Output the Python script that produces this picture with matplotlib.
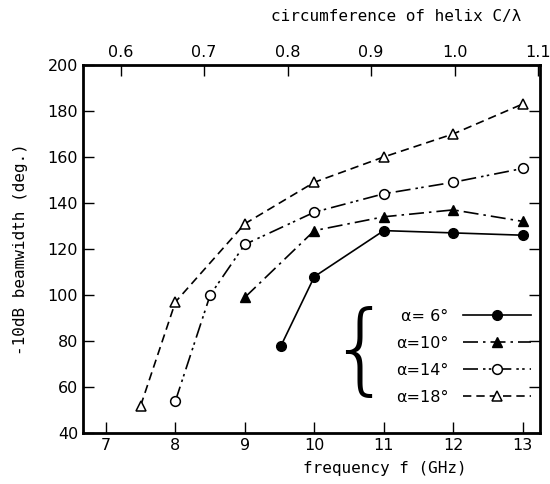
import matplotlib.pyplot as plt
import numpy as np

# данные
f_6 = [9.52, 10, 11, 12, 13]
bw_6 = [78, 108, 128, 127, 126]
f_10 = [9, 10, 11, 12, 13]
bw_10 = [99, 128, 134, 137, 132]
f_14 = [8, 8.5, 9, 10, 11, 12, 13]
bw_14 = [54, 100, 122, 136, 144, 149, 155]
f_18 = [7.5, 8, 9, 10, 11, 12, 13]
bw_18 = [52, 97, 131, 149, 160, 170, 183]

labels = ['α= 6°', 'α=10°', 'α=14°', 'α=18°']
x_ticks = [7, 8, 9, 10, 11, 12, 13]
y_ticks = [40, 60, 80, 100, 120, 140, 160, 180, 200]
top_ticks = [0.6, 0.7, 0.8, 0.9, 1.0, 1.1]
k = 0.0832  # C/lambda = k * f

plt.rcParams['font.family'] = ['DejaVu Sans']
fig = plt.figure(figsize=(5.5, 4.84), dpi=100)
ax = fig.add_axes([0.151, 0.105, 0.831, 0.761])

lw = 1.2
ax.plot(f_6, bw_6, '-', color='k', lw=lw, marker='o', ms=7,
        mfc='k', mec='k', label=labels[0])
ax.plot(f_10, bw_10, color='k', lw=lw, dashes=[9, 3, 1.5, 3], marker='^',
        ms=6.5, mfc='k', mec='k', label=labels[1])
ax.plot(f_14, bw_14, color='k', lw=lw, dashes=[9, 3, 1.5, 2, 1.5, 3],
        marker='o', ms=7, mfc='white', mec='k', mew=1.1, label=labels[2])
ax.plot(f_18, bw_18, color='k', lw=lw, dashes=[5, 3], marker='^', ms=6.5,
        mfc='white', mec='k', mew=1.1, label=labels[3])

ax.set_xlim(6.67, 13.25)
ax.set_ylim(40, 200)
ax.set_xticks(x_ticks)
ax.set_yticks(y_ticks)
for s in ax.spines.values():
    s.set_linewidth(2)
ax.tick_params(direction='in', length=8, width=1, labelsize=11.5,
               right=True, top=False)
ax.set_xlabel('frequency f (GHz)', fontsize=11.5, family='DejaVu Sans Mono')
ax.xaxis.set_label_coords(0.66, -0.075)
ax.set_ylabel('-10dB beamwidth (deg.)', fontsize=11.5, family='DejaVu Sans Mono')
ax.yaxis.set_label_coords(-0.12, 0.5)

sec = ax.secondary_xaxis('top', functions=(lambda f: f * k, lambda c: c / k))
sec.set_xticks(top_ticks)
sec.set_xticklabels(['0.6', '0.7', '0.8', '0.9', '1.0', '1.1'])
sec.tick_params(direction='in', length=8, width=1, labelsize=11.5)
fig.text(0.72, 0.965, 'circumference of helix C/λ', fontsize=11.5,
         family='DejaVu Sans Mono', ha='center', va='center')

leg = ax.legend(loc='lower right', bbox_to_anchor=(0.995, 0.06), borderaxespad=0,
                frameon=False, markerfirst=False, numpoints=1, handlelength=4.3,
                handletextpad=0.9, labelspacing=0.75, fontsize=11.5)
ax.text(0.605, 0.215, '{', transform=ax.transAxes, fontsize=72,
        fontweight=200, va='center', ha='center', color='k')

fig.savefig('out.png', dpi=100)
